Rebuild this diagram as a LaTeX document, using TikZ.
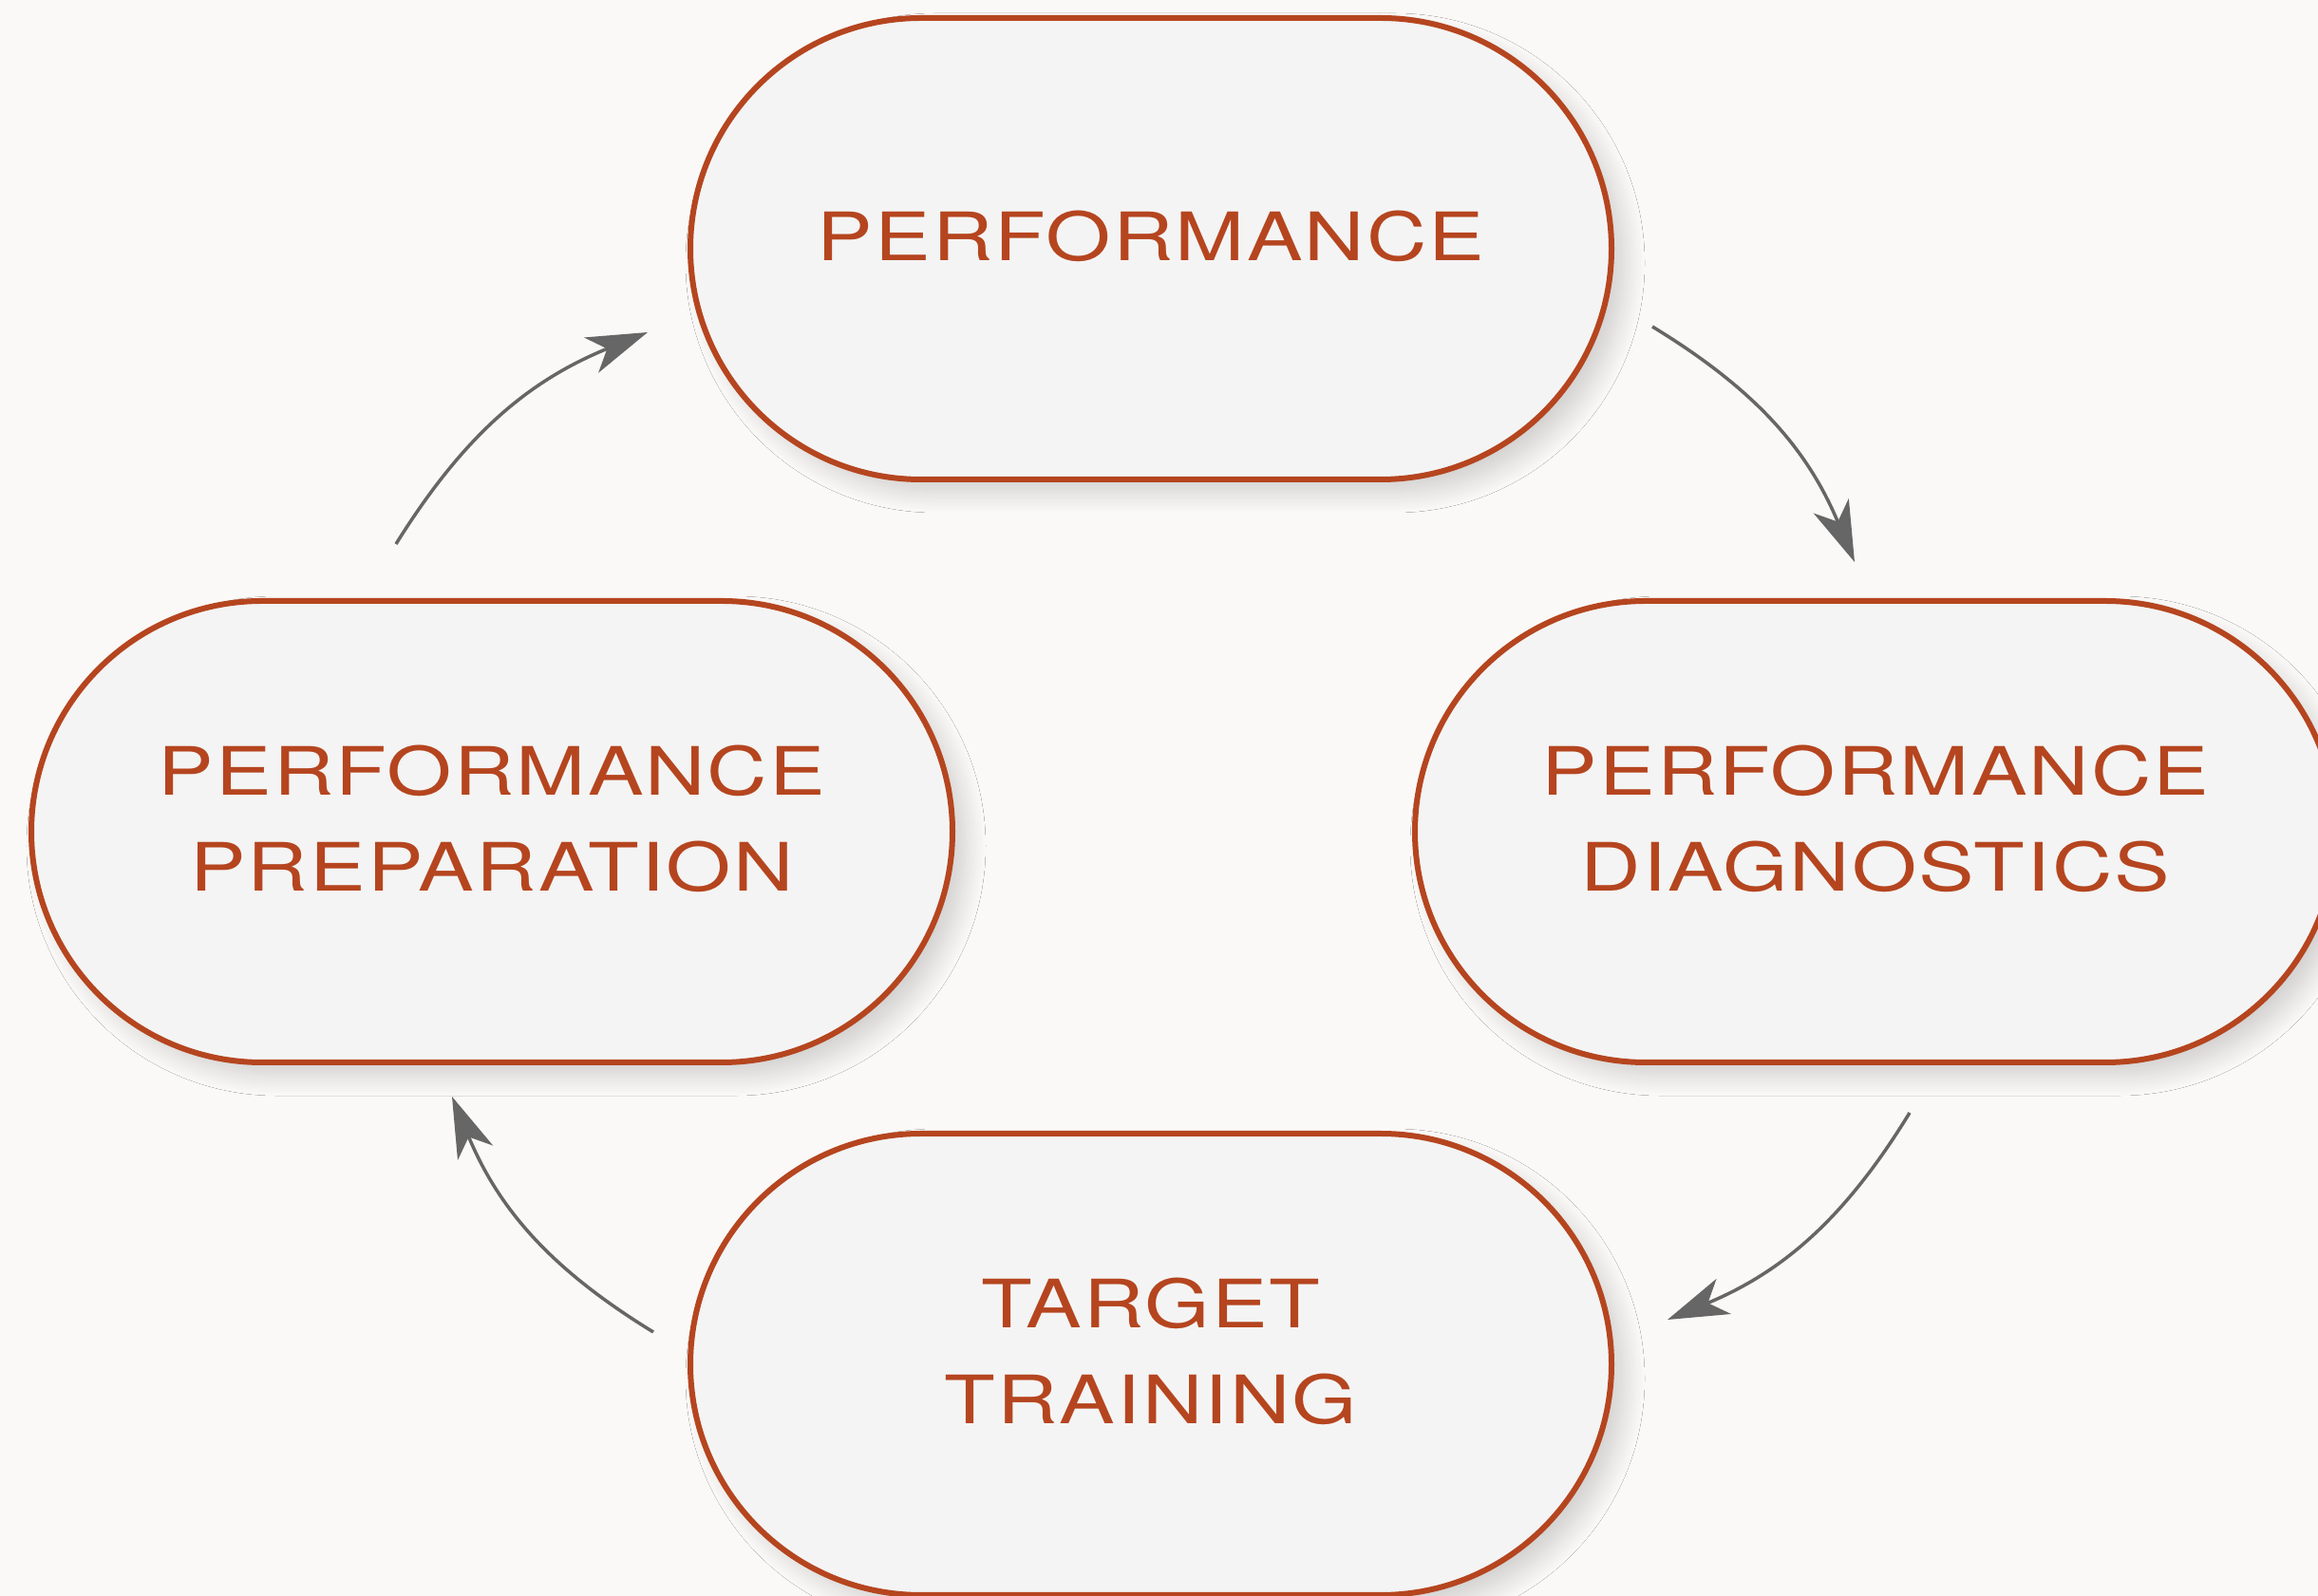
\documentclass[tikz,border=0pt]{standalone}
\usepackage{fontspec}
\usetikzlibrary{arrows.meta, shapes.misc, shadows.blur}
\newfontfamily\cyclefont[FakeStretch=1.25,LetterSpace=3]{TeX Gyre Heros}
\definecolor{rust}{HTML}{B5451F}
\definecolor{stagefill}{HTML}{F4F4F4}
\definecolor{pagebg}{HTML}{FAF9F7}
\definecolor{flowgray}{HTML}{666666}
\tikzset{stage/.style = {rounded rectangle, draw = rust, line width = 0.06cm, fill = stagefill,
    minimum width = 9.70cm, minimum height = 4.86cm, inner sep = 0pt, text depth = 0.28cm,
    align = center, text = rust, font = \cyclefont\fontsize{20}{28.7}\selectfont,
    blur shadow = {shadow xshift = 0.15cm, shadow yshift = -0.15cm, shadow blur radius = 0.2cm,
      shadow blur steps = 15, shadow opacity = 16}}}
\tikzset{flow/.style = {draw = flowgray, line width = 0.035cm, bend left = 18,
    -{Stealth[length = 0.64cm, width = 0.40cm, inset = 0.18cm]}}}

\begin{document}
\begin{tikzpicture}
\useasboundingbox (0,0) rectangle (24.41,-16.81);
\fill[pagebg] (0,0) rectangle (24.41,-16.81);
\node[stage] (perf) at (12.12,-2.62) {PERFORMANCE};
\node[stage] (prep) at (5.18,-8.76) {PERFORMANCE\\PREPARATION};
\node[stage] (diag) at (19.75,-8.76) {PERFORMANCE\\DIAGNOSTICS};
\node[stage] (train) at (12.12,-14.37) {TARGET\\TRAINING};
\coordinate (perfout) at (17.40,-3.44);
\coordinate (diagin) at (19.53,-5.92);
\coordinate (diagout) at (20.11,-11.72);
\coordinate (trainin) at (17.56,-13.90);
\coordinate (trainout) at (6.88,-14.03);
\coordinate (prepin) at (4.76,-11.55);
\coordinate (prepout) at (4.17,-5.73);
\coordinate (perfin) at (6.82,-3.50);
\draw[flow] (perfout) to (diagin);
\draw[flow] (diagout) to (trainin);
\draw[flow] (trainout) to (prepin);
\draw[flow] (prepout) to (perfin);
\end{tikzpicture}
\end{document}
